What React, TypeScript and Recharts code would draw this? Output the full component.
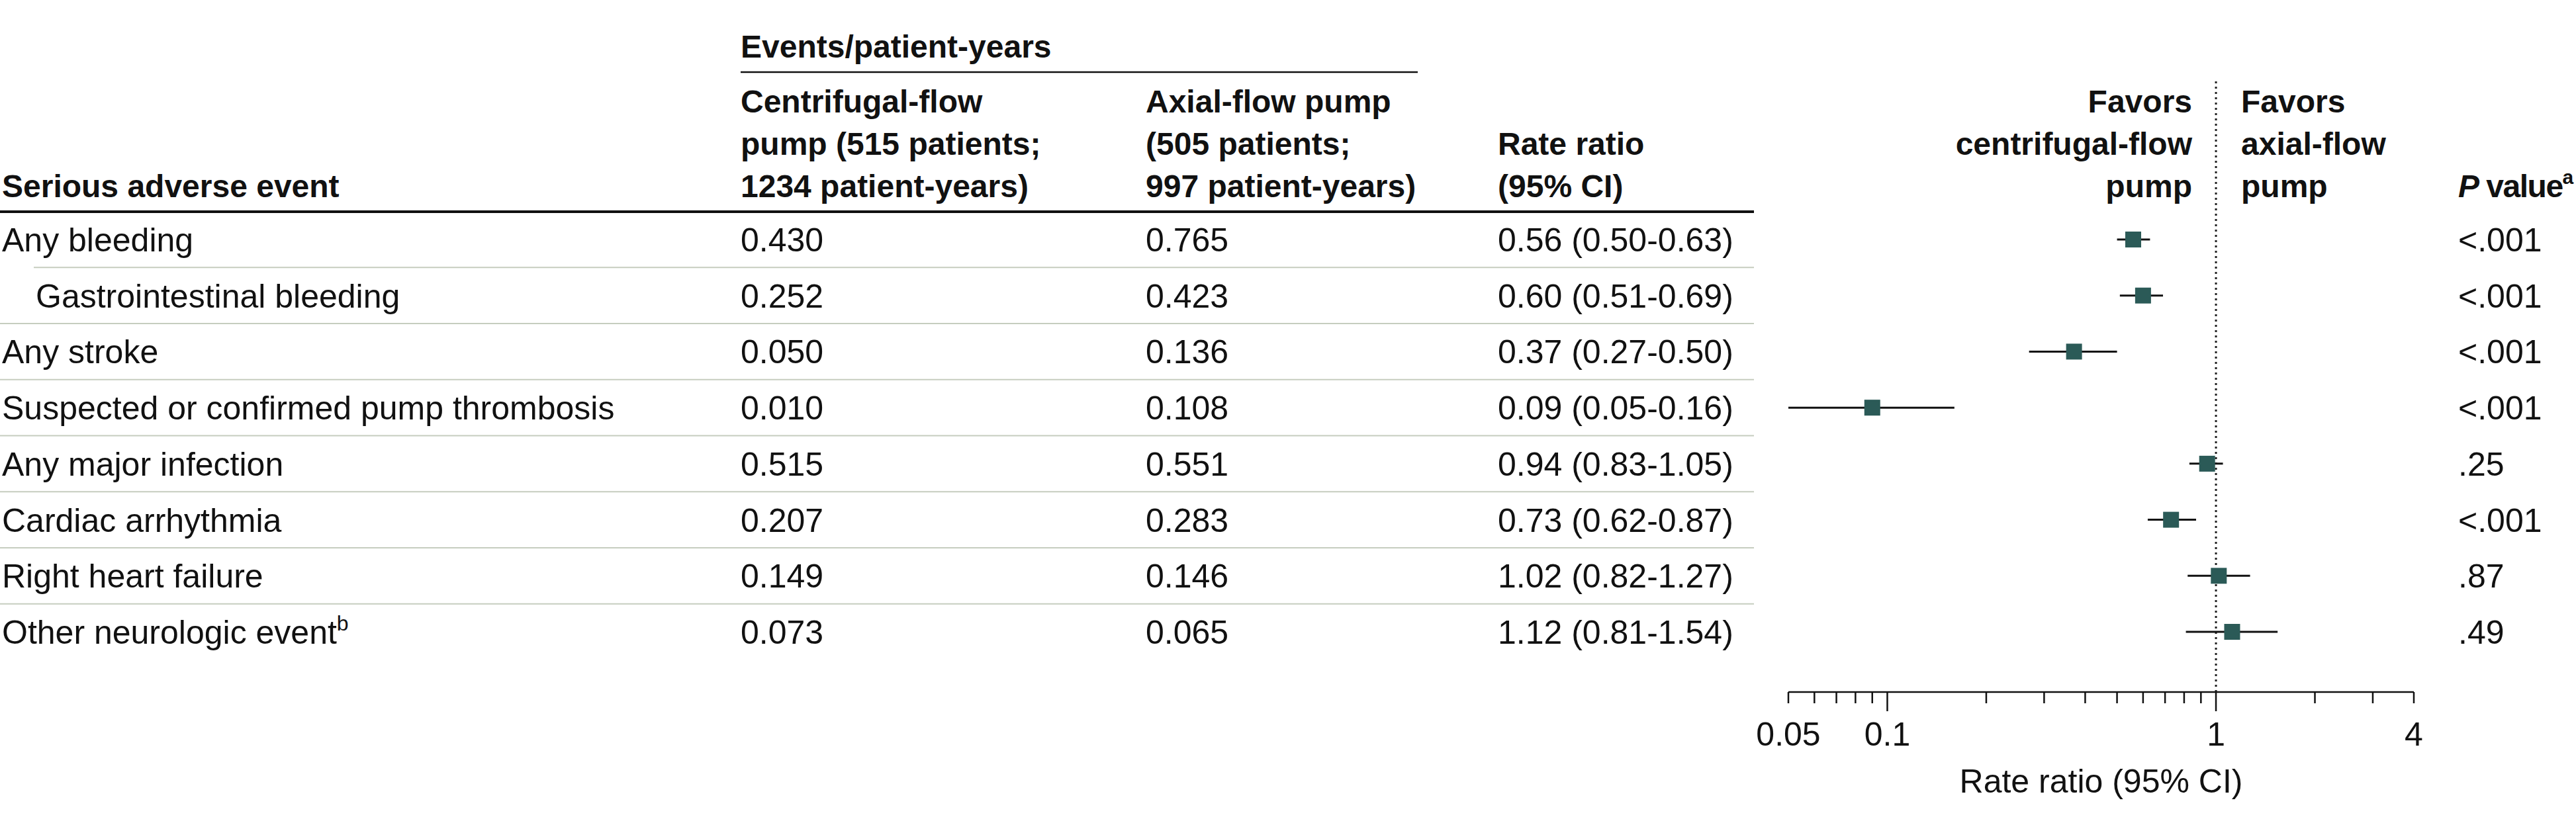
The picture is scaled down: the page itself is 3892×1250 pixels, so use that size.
import React from "react";
import { ScatterChart, Scatter, XAxis, YAxis, ErrorBar, ReferenceLine } from "recharts";

// rows of the table, top to bottom
const EVENTS = [
  "Any bleeding",
  "Gastrointestinal bleeding",
  "Any stroke",
  "Suspected or confirmed pump thrombosis",
  "Any major infection",
  "Cardiac arrhythmia",
  "Right heart failure",
  "Other neurologic event",
];
const INDENTED = [false, true, false, false, false, false, false, false];
const FOOTNOTES = ["", "", "", "", "", "", "", "b"];

// events/patient-years
const CENTRIFUGAL = [0.43, 0.252, 0.05, 0.01, 0.515, 0.207, 0.149, 0.073];
const AXIAL = [0.765, 0.423, 0.136, 0.108, 0.551, 0.283, 0.146, 0.065];

// rate ratio and 95% CI
const RATE_RATIO = [0.56, 0.6, 0.37, 0.09, 0.94, 0.73, 1.02, 1.12];
const CI_LOW = [0.5, 0.51, 0.27, 0.05, 0.83, 0.62, 0.82, 0.81];
const CI_HIGH = [0.63, 0.69, 0.5, 0.16, 1.05, 0.87, 1.27, 1.54];
const P_VALUES = ["<.001", "<.001", "<.001", "<.001", ".25", "<.001", ".87", ".49"];

// log axis
const X_TICKS = [0.05, 0.06, 0.07, 0.08, 0.09, 0.1, 0.2, 0.3, 0.4, 0.5, 0.6, 0.7, 0.8, 0.9, 1, 2, 3, 4];
const X_LABELED = [0.05, 0.1, 1, 4];
const X_MAJOR = [0.1, 1];

const FONT = '"Liberation Sans", Arial, sans-serif';
const FS = 50;
const FS_HEAD = 48;
const INK = "#111";
const TEAL = "#2b5a57";
const GRID = "#c6cdbf";
const RULE_END = 2650;

const COL_EVENT = 3;
const COL_INDENT = 54;
const COL_C1 = 1119;
const COL_C2 = 1731;
const COL_RR = 2263;
const COL_P = 3714;

const points = RATE_RATIO.map((rr, i) => ({
  rr,
  row: i,
  err: [rr - CI_LOW[i], CI_HIGH[i] - rr],
}));

// integer ticks carry the row text, half ticks draw the separators
const rowTicks = EVENTS.flatMap((_, i) => (i < EVENTS.length - 1 ? [i, i + 0.5] : [i]));

function RowTick(props: any) {
  const { y, payload } = props;
  const v = payload.value;
  if (!Number.isInteger(v)) {
    const next = Math.ceil(v);
    return (
      <line x1={INDENTED[next] ? COL_INDENT - 3 : 0} x2={RULE_END} y1={y} y2={y} stroke={GRID} strokeWidth={2} />
    );
  }
  const i = v;
  const base = y + 18;
  const t = { fontFamily: FONT, fontSize: FS, fill: INK };
  return (
    <g>
      <text x={INDENTED[i] ? COL_INDENT : COL_EVENT} y={base} {...t}>
        {EVENTS[i]}
        {FOOTNOTES[i] && (
          <tspan fontSize={32} dy={-20}>
            {FOOTNOTES[i]}
          </tspan>
        )}
      </text>
      <text x={COL_C1} y={base} {...t}>
        {CENTRIFUGAL[i].toFixed(3)}
      </text>
      <text x={COL_C2} y={base} {...t}>
        {AXIAL[i].toFixed(3)}
      </text>
      <text x={COL_RR} y={base} {...t}>
        {`${RATE_RATIO[i].toFixed(2)} (${CI_LOW[i].toFixed(2)}-${CI_HIGH[i].toFixed(2)})`}
      </text>
      <text x={COL_P} y={base} {...t}>
        {P_VALUES[i]}
      </text>
    </g>
  );
}

function RatioTick(props: any) {
  const { x, y, payload } = props;
  const v = payload.value;
  const len = X_MAJOR.includes(v) ? 29 : 17;
  return (
    <g>
      <line x1={x} x2={x} y1={y} y2={y + len} stroke={INK} strokeWidth={2.5} />
      {X_LABELED.includes(v) && (
        <text x={x} y={y + 81} textAnchor="middle" fontFamily={FONT} fontSize={FS} fill={INK}>
          {String(v)}
        </text>
      )}
    </g>
  );
}

function Square(props: any) {
  const { cx, cy } = props;
  return <rect x={cx - 12} y={cy - 12} width={24} height={24} fill={TEAL} />;
}

function Header() {
  const b = { fontFamily: FONT, fontSize: FS_HEAD, fontWeight: 700, fill: INK };
  return (
    <svg width={3892} height={1250} style={{ position: "absolute", left: 0, top: 0, pointerEvents: "none" }}>
      <text x={COL_C1} y={87} {...b}>Events/patient-years</text>
      <line x1={COL_C1} x2={2142} y1={109} y2={109} stroke={INK} strokeWidth={2.5} />

      <text x={COL_C1} y={170} {...b}>Centrifugal-flow</text>
      <text x={COL_C1} y={234} {...b}>pump (515 patients;</text>
      <text x={COL_C1} y={298} {...b}>1234 patient-years)</text>

      <text x={COL_C2} y={170} {...b}>Axial-flow pump</text>
      <text x={COL_C2} y={234} {...b}>(505 patients;</text>
      <text x={COL_C2} y={298} {...b}>997 patient-years)</text>

      <text x={COL_EVENT} y={298} {...b}>Serious adverse event</text>

      <text x={COL_RR} y={234} {...b}>Rate ratio</text>
      <text x={COL_RR} y={298} {...b}>(95% CI)</text>

      <text x={3312} y={170} textAnchor="end" {...b}>Favors</text>
      <text x={3312} y={234} textAnchor="end" {...b}>centrifugal-flow</text>
      <text x={3312} y={298} textAnchor="end" {...b}>pump</text>
      <text x={3386} y={170} {...b}>Favors</text>
      <text x={3386} y={234} {...b}>axial-flow</text>
      <text x={3386} y={298} {...b}>pump</text>

      <text x={COL_P} y={298} letterSpacing={-1.5} {...b}>
        <tspan fontStyle="italic">P</tspan> value
        <tspan fontSize={30} dy={-20}>a</tspan>
      </text>

      <line x1={0} x2={RULE_END} y1={320} y2={320} stroke={INK} strokeWidth={4} />
    </svg>
  );
}

export default function App() {
  return (
    <div style={{ position: "absolute", left: 0, top: 0, width: 3892, height: 1250, background: "#fff", fontFamily: FONT }}>
      <ScatterChart width={3892} height={1250} margin={{ top: 121, right: 245, bottom: 34, left: 2701 }}>
        <XAxis
          type="number"
          dataKey="rr"
          scale="log"
          domain={[0.05, 4]}
          allowDataOverflow
          ticks={X_TICKS}
          interval={0}
          height={170}
          tickSize={0}
          tickMargin={0}
          tickLine={false}
          axisLine={{ stroke: INK, strokeWidth: 2.5 }}
          tick={<RatioTick />}
          label={{ value: "Rate ratio (95% CI)", position: "insideBottom", offset: 18, fontSize: FS, fontFamily: FONT, fill: INK }}
        />
        <YAxis
          type="number"
          dataKey="row"
          domain={[-2.845, 8.074]}
          reversed
          allowDataOverflow
          ticks={rowTicks}
          interval={0}
          width={1}
          axisLine={false}
          tickLine={false}
          tick={<RowTick />}
        />
        <ReferenceLine x={1} stroke="#222" strokeWidth={3} strokeDasharray="3 5" />
        <Scatter data={points} shape={<Square />} isAnimationActive={false}>
          <ErrorBar dataKey="err" direction="x" width={0} stroke={INK} strokeWidth={3} isAnimationActive={false} />
        </Scatter>
      </ScatterChart>
      <Header />
    </div>
  );
}
